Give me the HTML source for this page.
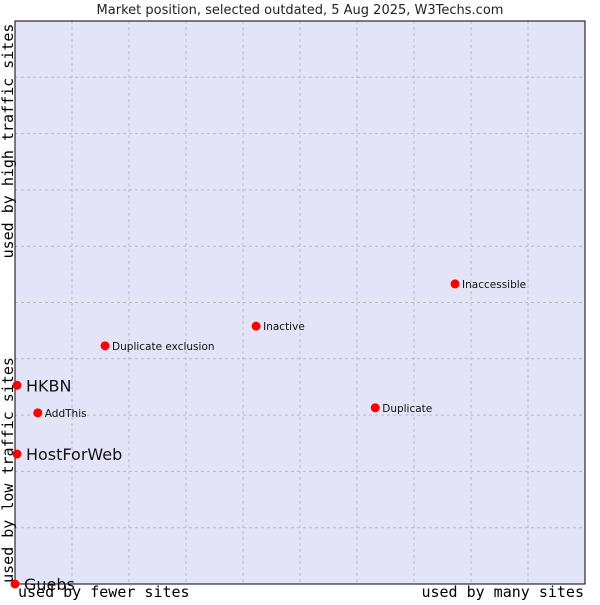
<!DOCTYPE html>
<html><head><meta charset="utf-8"><style>
body{margin:0;background:#fff;width:600px;height:600px;overflow:hidden}
svg text{font-family:"DejaVu Sans","Liberation Sans",sans-serif}
.mono{font-family:"DejaVu Sans Mono","Liberation Mono",monospace}
</style></head><body>
<svg width="600" height="600">
<text x="300" y="14" text-anchor="middle" font-size="13" fill="#222">Market position, selected outdated, 5 Aug 2025, W3Techs.com</text>
<rect x="15" y="21" width="570" height="563" fill="#e4e4f8"/>
<g id="grid"></g>
<rect x="15" y="21" width="570" height="563" fill="none" stroke="#000" stroke-width="1"/>
<g id="points"></g>
<text class="mono" x="18" y="597" font-size="15" fill="#000">used by fewer sites</text>
<text class="mono" x="584" y="597" font-size="15" text-anchor="end" fill="#000">used by many sites</text>
<text class="mono" transform="translate(13,470) rotate(-90)" font-size="15" text-anchor="middle" fill="#000">used by low traffic sites</text>
<text class="mono" transform="translate(13,141) rotate(-90)" font-size="15" text-anchor="middle" fill="#000">used by high traffic sites</text>
</svg>
<script>
const names=["HKBN","AddThis","HostForWeb","Guebs","Duplicate exclusion","Inactive","Inaccessible","Duplicate"];
const xs=[0.35,4.0,0.35,0,15.8,42.3,77.2,63.2];
const ys=[35.3,30.4,23.1,0,42.3,45.8,53.3,31.3];
const big=[true,false,true,true,false,false,false,false];
const L=15,T=21,W=570,H=563;
const sx=v=>L+v/100*W, sy=v=>T+H-v/100*H;
const NS="http://www.w3.org/2000/svg";
const g=document.getElementById('grid');
for(let i=1;i<10;i++){
 const v=document.createElementNS(NS,'line');
 
 
 v.setAttribute('x1',sx(i*10));v.setAttribute('x2',sx(i*10));v.setAttribute('y1',T);v.setAttribute('y2',T+H);
 v.setAttribute('stroke','#bbb');v.setAttribute('stroke-dasharray','3,3');g.appendChild(v);
 const h=document.createElementNS(NS,'line');
 
 
 h.setAttribute('y1',sy(i*10));h.setAttribute('y2',sy(i*10));h.setAttribute('x1',L);h.setAttribute('x2',L+W);
 h.setAttribute('stroke','#bbb');h.setAttribute('stroke-dasharray','3,3');g.appendChild(h);
}
const p=document.getElementById('points');
names.forEach((n,i)=>{
 const x=sx(xs[i]),y=sy(ys[i]);
 const d=document.createElementNS(NS,'circle');
 
 
 d.setAttribute('cx',x);d.setAttribute('cy',y);d.setAttribute('r',4.5);
 d.setAttribute('fill','#f00');p.appendChild(d);
 const t=document.createElementNS(NS,'text');
 
 
 t.setAttribute('x',x+(big[i]?9:7));t.setAttribute('y',y+(big[i]?6:4));
 t.setAttribute('font-size',big[i]?16:10.5);t.setAttribute('fill','#111');
 t.textContent=n;p.appendChild(t);
});
</script>
</body></html>
